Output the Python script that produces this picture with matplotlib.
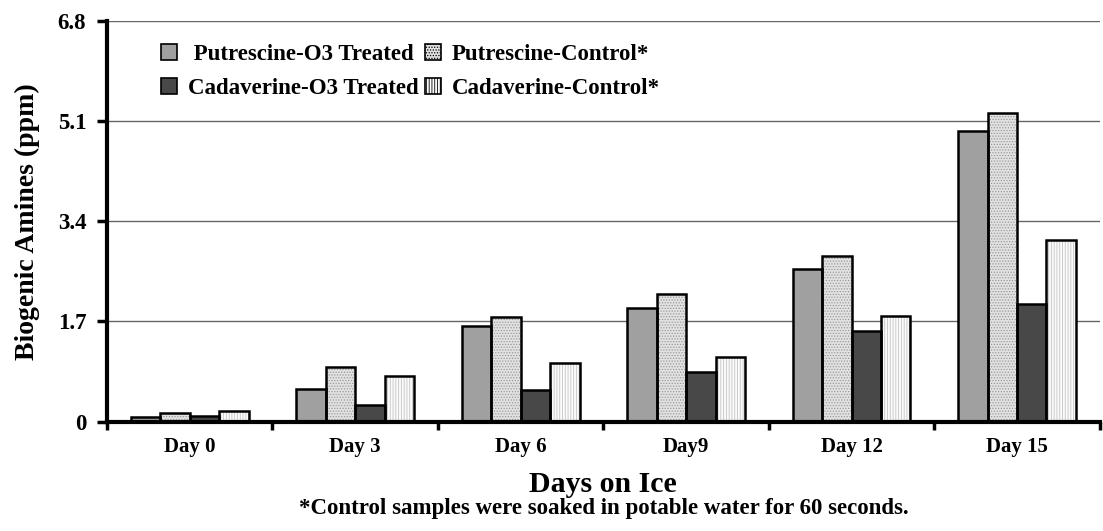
# biogenic amines on ice - grouped bar chart
import matplotlib
matplotlib.use('Agg')
import matplotlib.pyplot as plt
import numpy as np

plt.rcParams['font.family'] = 'Liberation Serif'
plt.rcParams['font.weight'] = 'bold'
plt.rcParams['hatch.linewidth'] = 0.6

# data
days = ['Day 0', 'Day 3', 'Day 6', 'Day9', 'Day 12', 'Day 15']
series = [' Putrescine-O3 Treated', 'Putrescine-Control*',
          'Cadaverine-O3 Treated', 'Cadaverine-Control*']
put_o3 = [0.07, 0.56, 1.63, 1.92, 2.59, 4.93]
put_ctrl = [0.15, 0.92, 1.77, 2.16, 2.81, 5.24]
cad_o3 = [0.10, 0.29, 0.53, 0.85, 1.53, 1.99]
cad_ctrl = [0.18, 0.77, 0.99, 1.10, 1.79, 3.08]
yticks = [0, 1.7, 3.4, 5.1, 6.8]

# fill colour, hatch, hatch colour for each series
styles = [('#a0a0a0', '', '#a0a0a0'),
          ('#e2e2e2', '......', '#999999'),
          ('#484848', '', '#484848'),
          ('#fbfbfb', '||||||', '#c4c4c4')]

fig = plt.figure(figsize=(11.03, 5.31), dpi=100)
ax = fig.add_axes([0.097, 0.206, 0.9, 0.755])

x = np.arange(len(days))
w = 0.178
for i, vals in enumerate([put_o3, put_ctrl, cad_o3, cad_ctrl]):
    fc, hatch, hc = styles[i]
    pos = x + (i - 1.5) * w
    # hatched fill first, then a plain black outline on top
    ax.bar(pos, vals, w, color=fc, hatch=hatch, edgecolor=hc, linewidth=0, zorder=2)
    ax.bar(pos, vals, w, fill=False, edgecolor='black', linewidth=1.8, zorder=3)

# legend proxies, reordered so rows read putrescine / cadaverine
handles = [plt.Rectangle((0, 0), 1, 1, facecolor=s[0], hatch=s[1], edgecolor='black', linewidth=1.2)
           for s in styles]
order = [0, 2, 1, 3]
ax.legend([handles[k] for k in order], [series[k] for k in order], ncol=2,
          loc='upper left', bbox_to_anchor=(0.034, 0.993),
          frameon=False, fontsize=16.5, handlelength=0.7, handleheight=0.7,
          handletextpad=0.45, columnspacing=0.3, labelspacing=0.55)

ax.set_xlim(-0.5, len(days) - 0.5)
ax.set_ylim(0, 6.8)
ax.set_yticks(yticks)
ax.set_yticklabels(['0', '1.7', '3.4', '5.1', '6.8'], fontsize=16.5)
ax.yaxis.grid(True, color='#666666', linewidth=1.0, zorder=0)
ax.set_axisbelow(True)

# category labels centred, ticks between groups
ax.set_xticks(np.arange(len(days) + 1) - 0.5)
ax.set_xticklabels([])
ax.set_xticks(x, minor=True)
ax.set_xticklabels(days, minor=True, fontsize=15)
ax.tick_params(axis='x', which='minor', length=0, pad=11)
ax.tick_params(axis='x', which='major', length=6, width=2.5, direction='out')
ax.tick_params(axis='y', length=7, width=2.5, direction='out', pad=8)

for s in ['top', 'right']:
    ax.spines[s].set_visible(False)
for s in ['left', 'bottom']:
    ax.spines[s].set_linewidth(3)

ax.set_ylabel('Biogenic Amines (ppm)', fontsize=20, fontweight='bold', labelpad=13)
ax.set_xlabel('Days on Ice', fontsize=21.5, fontweight='bold', labelpad=10)
fig.text(0.547, 0.032, '*Control samples were soaked in potable water for 60 seconds.',
         ha='center', fontsize=16.5, fontweight='bold')

fig.savefig('out.png', dpi=100)
